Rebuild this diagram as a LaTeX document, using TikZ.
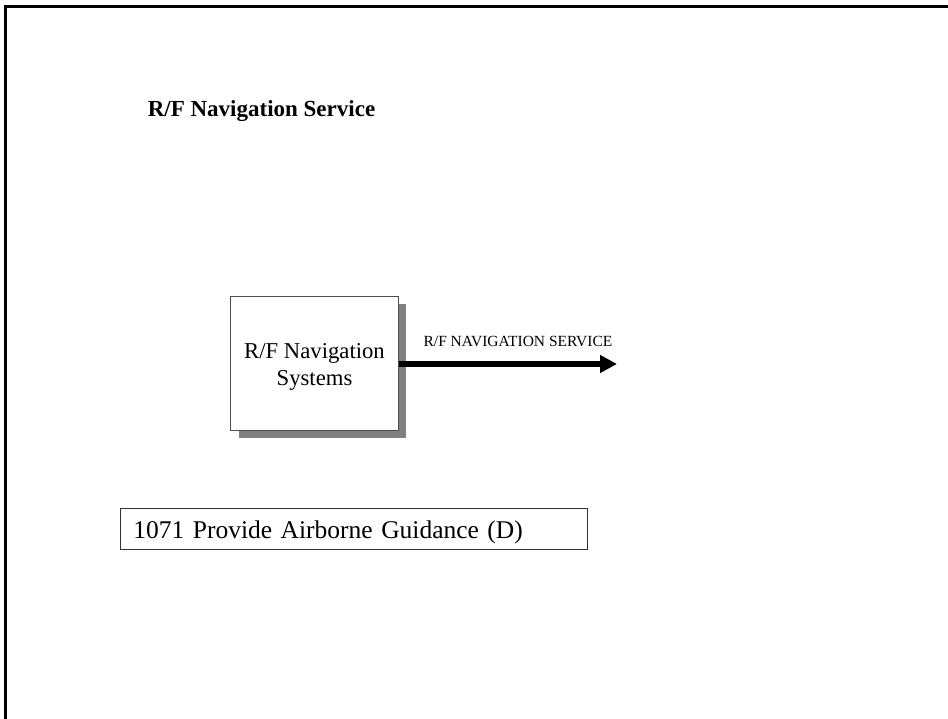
\documentclass[tikz,border=0pt]{standalone}
\usepackage{fontspec}
\setmainfont{Liberation Serif}
\usetikzlibrary{arrows.meta,shadows}
\tikzset{
  frameline/.style={line width=3pt, line cap=rect},
  sysbox/.style={draw=black!70, line width=0.8pt, fill=white, minimum width=167.6pt, minimum height=134pt,
    drop shadow={shadow xshift=8pt, shadow yshift=-8pt, fill=black!50, opacity=1}},
  flow/.style={line width=5pt, -{Triangle[length=17pt,width=17pt]}},
  guidebox/.style={draw=black!80, line width=0.8pt, minimum width=466.7pt, text width=440.7pt, inner xsep=13pt,
    align=left, text height=22pt, text depth=2.6pt, inner ysep=8.35pt, font=\fontsize{25.5}{30}\selectfont},
}
\begin{document}
\begin{tikzpicture}[x=1pt,y=-1pt]
\useasboundingbox (0,0) rectangle (948,719);
\coordinate (fbot) at (5,725);
\coordinate (fcorner) at (5,7);
\coordinate (fright) at (955,7);
\draw[frameline] (fbot) -- (fcorner) -- (fright);
\node[anchor=base, font=\fontsize{23}{27}\selectfont\bfseries] (title) at (261.5,116.7) {R/F Navigation Service};
\node[sysbox] (sys) at (314.5,363) {};
\node[align=center, font=\fontsize{22.7}{27}\selectfont, inner sep=0pt, anchor=base] (systxt) at (314.5,385) {R/F Navigation\\Systems};
\coordinate (flowend) at (617,364);
\draw[flow] (sys.east |- flowend) -- (flowend);
\node[anchor=base, font=\fontsize{15.5}{18}\selectfont, inner sep=0pt] (flowlbl) at (518,346.7) {R/F NAVIGATION SERVICE};
\node[guidebox, anchor=north west] (guide) at (120,507.7) {1071 Provide Airborne Guidance (D)};
\end{tikzpicture}
\end{document}
